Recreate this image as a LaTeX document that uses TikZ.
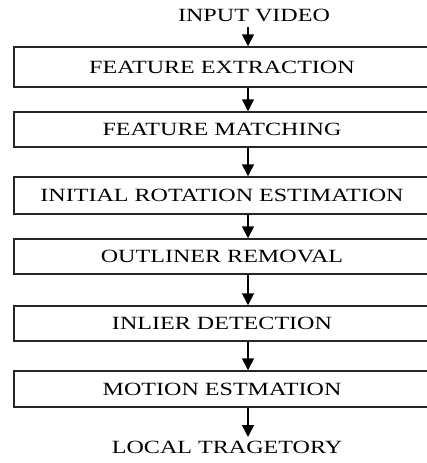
\documentclass[tikz,border=0pt]{standalone}
\usepackage{fontspec}
\setmainfont{Liberation Serif}[FakeStretch=1.29]
\usetikzlibrary{arrows.meta}
\tikzset{
  stagebox/.style={draw=black!85, line width=1.1pt, minimum width=312pt, inner sep=0pt, font=\fontsize{14}{16}\selectfont},
  lbl/.style={inner sep=0pt, font=\fontsize{14}{16}\selectfont},
  arr/.style={draw=black, line width=1.2pt, -{Triangle[length=9pt,width=9pt]}}
}
\begin{document}
\begin{tikzpicture}[x=0.75pt,y=-0.75pt]
\useasboundingbox (0,0) rectangle (427,463);
\clip (0,0) rectangle (427,463);
\fill[white] (0,0) rectangle (427,463);
\coordinate (ax) at (248,0);
\node[lbl] (in) at (254,15) {INPUT VIDEO};
\node[stagebox, minimum height=30pt] (b1) at (222,67) {FEATURE EXTRACTION};
\node[stagebox, minimum height=26.25pt] (b2) at (222,129.5) {FEATURE MATCHING};
\node[stagebox, minimum height=27.75pt] (b3) at (222,195.5) {INITIAL ROTATION ESTIMATION};
\node[stagebox, minimum height=26.25pt] (b4) at (222,256.5) {OUTLINER REMOVAL};
\node[stagebox, minimum height=26.25pt] (b5) at (222,323.5) {INLIER DETECTION};
\node[stagebox, minimum height=27pt] (b6) at (222,389) {MOTION ESTMATION};
\node[lbl] (out) at (227,447) {LOCAL TRAGETORY};
\coordinate (s0) at (248,27);
\coordinate (e7) at (248,437);
\draw[arr] (s0) -- (b1.north -| ax);
\draw[arr] (b1.south -| ax) -- (b2.north -| ax);
\draw[arr] (b2.south -| ax) -- (b3.north -| ax);
\draw[arr] (b3.south -| ax) -- (b4.north -| ax);
\draw[arr] (b4.south -| ax) -- (b5.north -| ax);
\draw[arr] (b5.south -| ax) -- (b6.north -| ax);
\draw[arr] (b6.south -| ax) -- (e7);
\end{tikzpicture}
\end{document}
